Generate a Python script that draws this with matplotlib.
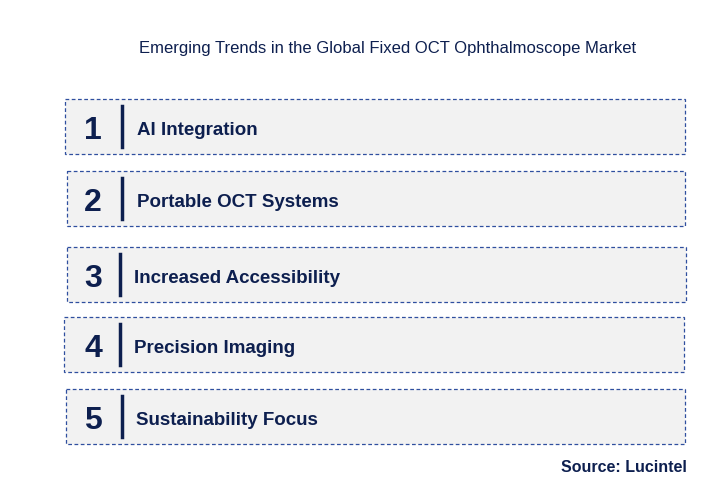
import matplotlib
matplotlib.use("Agg")
import matplotlib.pyplot as plt
from matplotlib.patches import Rectangle

numbers = ["1", "2", "3", "4", "5"]
labels = ["AI Integration", "Portable OCT Systems", "Increased Accessibility",
          "Precision Imaging", "Sustainability Focus"]
title = "Emerging Trends in the Global Fixed OCT Ophthalmoscope Market"
source = "Source: Lucintel"

box_left = [65, 67, 67, 64, 66]
box_right = [685, 685, 686, 684, 685]
box_top = [100, 172, 248, 318, 390]
box_h = 55
bar_x = [122, 122, 120, 120, 122]
text_x = [137, 137, 134, 134, 136]

navy = "#0d1f4f"
fig = plt.figure(figsize=(7.12, 4.81), dpi=100)
ax = fig.add_axes([0, 0, 1, 1])
ax.set_xlim(0, 712)
ax.set_ylim(481, 0)
ax.axis("off")

ax.text(388, 49, title, ha="center", va="center", fontsize=12, color=navy,
        fontfamily="Liberation Sans")
for i in range(len(numbers)):
    l, r, t = box_left[i], box_right[i], box_top[i]
    ax.add_patch(Rectangle((l, t), r - l, box_h, facecolor="#f2f2f2",
                           edgecolor="#2f4f9f", linestyle=(0, (3, 2)), linewidth=0.9))
    cy = t + box_h / 2
    ax.text(93, cy + 4, numbers[i], ha="center", va="center", fontsize=23,
            fontweight="bold", color=navy, fontfamily="Liberation Sans")
    ax.plot([bar_x[i], bar_x[i]], [t + 7, t + box_h - 7], color=navy, linewidth=2.5)
    ax.text(text_x[i], cy + 3.5, labels[i], ha="left", va="center", fontsize=13.5,
            fontweight="bold", color=navy, fontfamily="Liberation Sans")
ax.text(687, 468, source, ha="right", va="center", fontsize=11.5,
        fontweight="bold", color=navy, fontfamily="Liberation Sans")
fig.savefig("out.png", dpi=100)
